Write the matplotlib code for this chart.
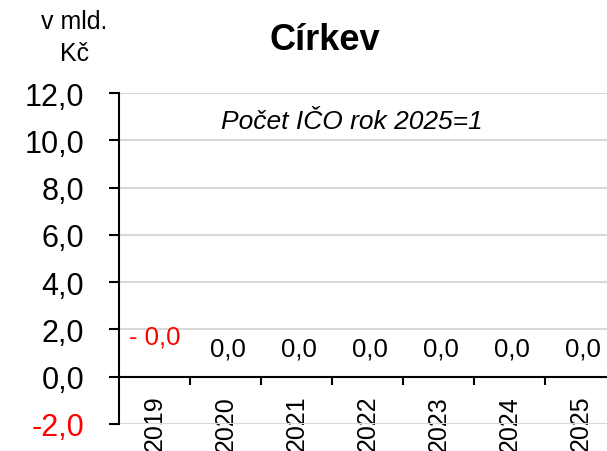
import matplotlib
matplotlib.use("Agg")
import matplotlib.pyplot as plt
import numpy as np

plt.rcParams['font.family'] = ['Liberation Sans', 'DejaVu Sans']

years = ['2019', '2020', '2021', '2022', '2023', '2024', '2025']
values = [-0.01, 0.0, 0.0, 0.0, 0.0, 0.0, 0.0]
yticks = [-2, 0, 2, 4, 6, 8, 10, 12]

fig = plt.figure(figsize=(6.07, 4.52), dpi=100)
ax = fig.add_axes([119/607, 1 - 425/452, (616 - 119)/607, (425 - 94)/452])

x = np.arange(len(years))
ax.bar(x, values, width=0.6, color='#4472c4')

ax.set_xlim(-0.5, len(years) - 0.5)
ax.set_ylim(-2, 12)

# grid
ax.set_yticks(yticks)
ax.yaxis.grid(True, color='#d9d9d9', linewidth=1.5)
ax.set_axisbelow(True)
ax.set_yticklabels([('%.1f' % v).replace('.', ',') for v in yticks], fontsize=22)
ax.get_yticklabels()[0].set_color('red')
ax.tick_params(axis='y', length=7, width=1.5, direction='out', pad=18)

# x axis at zero
for s in ['top', 'right']:
    ax.spines[s].set_visible(False)
ax.spines['bottom'].set_position(('data', 0))
ax.spines['bottom'].set_linewidth(1.5)
ax.spines['left'].set_linewidth(1.5)
ax.set_xticks(x)
ax.set_xticklabels(years, rotation=90, fontsize=18, va='top')
ax.tick_params(axis='x', which='major', length=0, pad=13)
ax.set_xticks(np.arange(0.5, len(years) - 0.5, 1), minor=True)
ax.tick_params(axis='x', which='minor', length=6, width=1.5, direction='out')

# value labels
for xi, v in zip(x, values):
    if v < 0:
        txt = '- ' + ('%.1f' % abs(v)).replace('.', ',')
        ax.annotate(txt, (xi, 0), xytext=(0, 20), textcoords='offset points',
                    ha='center', va='bottom', fontsize=18.5, color='red')
    else:
        txt = ('%.1f' % v).replace('.', ',')
        ax.annotate(txt, (xi, 0), xytext=(2, 12), textcoords='offset points',
                    ha='center', va='bottom', fontsize=18.5, color='black')

fig.text(352/607, 1 - 122/452, 'Počet IČO rok 2025=1',
         ha='center', va='center', fontsize=19, style='italic')
fig.text(325/607, 1 - 41/452, 'Církev', ha='center', va='center',
         fontsize=26, fontweight='bold')
fig.text(74/607, 1 - 38/452, 'v mld.\nKč', ha='center', va='center',
         fontsize=18, linespacing=1.4)

fig.savefig('out.png', dpi=100)
